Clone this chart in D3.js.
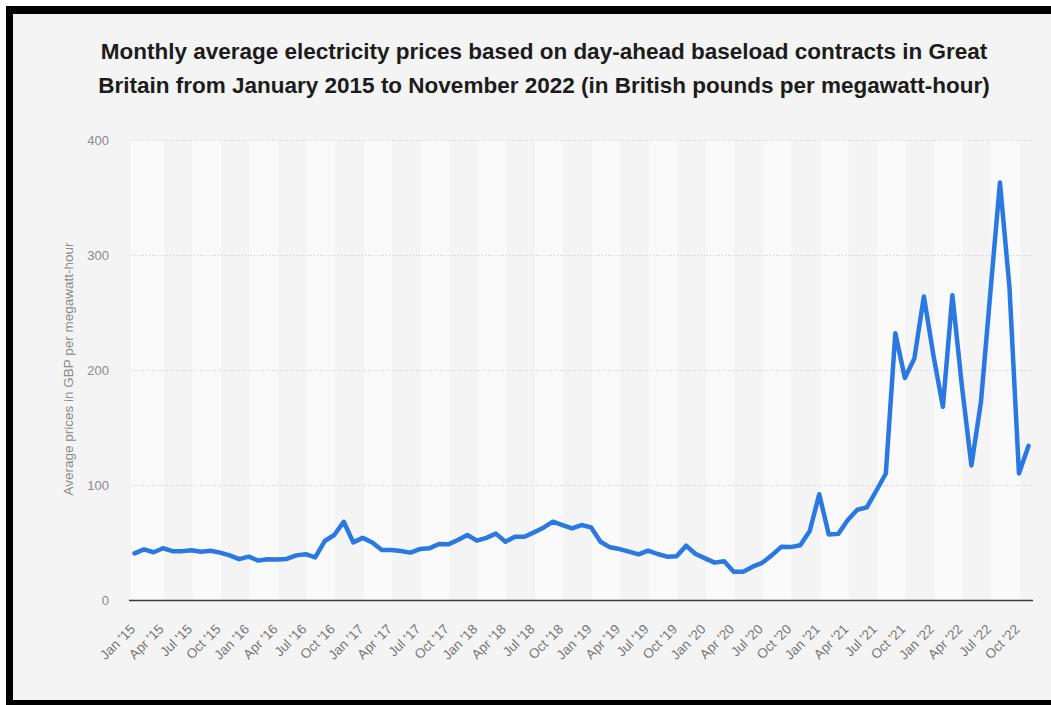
<!DOCTYPE html>
<html>
<head>
<meta charset="utf-8">
<script src="https://cdn.jsdelivr.net/npm/d3@7"></script>
<style>
  html, body { margin: 0; padding: 0; background: #fff; }
  svg { display: block; font-family: "Liberation Sans", Arial, Helvetica, sans-serif; }
</style>
</head>
<body>
<svg id="chart" width="1051" height="705"></svg>
<script>
// Monthly categories, January 2015 to November 2022
const monthNames = ["Jan", "Feb", "Mar", "Apr", "May", "Jun", "Jul", "Aug", "Sep", "Oct", "Nov", "Dec"];
const years = ["15", "16", "17", "18", "19", "20", "21", "22"];
const lastMonthIndex = 10; // November of the final year

// Average day-ahead baseload price, GBP per MWh
const prices = [
  40.6, 44.0, 41.5, 45.0, 42.5, 42.5, 43.3, 42.0, 42.8, 41.2, 38.8, 35.5,   // 2015
  37.7, 34.3, 35.4, 35.3, 35.7, 38.8, 39.8, 37.0, 51.3, 56.5, 68.0, 50.1,   // 2016
  54.0, 50.0, 43.5, 43.5, 42.6, 41.2, 44.3, 44.9, 48.7, 48.4, 52.2, 56.5,   // 2017
  51.6, 54.0, 57.7, 50.7, 55.0, 55.0, 58.8, 62.9, 68.1, 65.2, 62.3, 65.2,   // 2018
  63.2, 50.7, 45.8, 44.3, 42.0, 39.7, 42.9, 40.0, 37.7, 38.0, 47.2, 40.0,   // 2019
  36.2, 32.5, 33.7, 24.6, 24.6, 29.0, 32.3, 38.8, 46.2, 46.0, 47.6, 60.0,   // 2020
  92.0, 57.0, 57.5, 69.5, 78.5, 80.5, 95.0, 110.0, 232.0, 193.0, 210.0, 264.0, // 2021
  213.0, 168.0, 265.0, 186.0, 117.0, 172.0, 268.0, 363.0, 272.0, 110.0, 134.0  // 2022
];

const yTicks = [0, 100, 200, 300, 400];
const xTickLabels = [
  "Jan '15", "Apr '15", "Jul '15", "Oct '15", "Jan '16", "Apr '16", "Jul '16", "Oct '16",
  "Jan '17", "Apr '17", "Jul '17", "Oct '17", "Jan '18", "Apr '18", "Jul '18", "Oct '18",
  "Jan '19", "Apr '19", "Jul '19", "Oct '19", "Jan '20", "Apr '20", "Jul '20", "Oct '20",
  "Jan '21", "Apr '21", "Jul '21", "Oct '21", "Jan '22", "Apr '22", "Jul '22", "Oct '22"
];

const titleLines = [
  "Monthly average electricity prices based on day-ahead baseload contracts in Great",
  "Britain from January 2015 to November 2022 (in British pounds per megawatt-hour)"
];
const yAxisTitle = "Average prices in GBP per megawatt-hour";

const categories = [];
years.forEach((y, yi) => monthNames.forEach((m, mi) => {
  if (yi < years.length - 1 || mi <= lastMonthIndex) categories.push(`${m} '${y}`);
}));
const data = categories.map((c, i) => ({ cat: c, value: prices[i] }));

const W = 1051, H = 705;
const plot = { left: 131, right: 1032, top: 140, bottom: 600 };

const svg = d3.select("#chart");

// Outer frame
svg.append("rect").attr("x", 0).attr("y", 0).attr("width", W).attr("height", H).attr("fill", "#fff");
svg.append("rect").attr("x", 6).attr("y", 6).attr("width", W).attr("height", H).attr("fill", "#000");
svg.append("rect").attr("x", 13).attr("y", 14).attr("width", W).attr("height", 686).attr("fill", "#f4f4f4");

const x = d3.scalePoint().domain(categories).range([plot.left, plot.right]).padding(0.37);
const y = d3.scaleLinear().domain([0, 400]).range([plot.bottom, plot.top]);

// Alternating quarter bands
const bandEdges = [plot.left];
for (let i = 3; i < categories.length; i += 3) bandEdges.push(x(categories[i]) + 1);
bandEdges.push(plot.right);
const bands = d3.pairs(bandEdges);
svg.append("g").selectAll("rect").data(bands).join("rect")
  .attr("x", d => d[0]).attr("y", plot.top)
  .attr("width", d => d[1] - d[0]).attr("height", plot.bottom - plot.top)
  .attr("fill", (d, i) => i % 2 === 0 ? "#fafafa" : "#f4f4f4");

// Horizontal dotted grid
svg.append("g").selectAll("line").data(yTicks.filter(t => t > 0)).join("line")
  .attr("x1", plot.left).attr("x2", plot.right)
  .attr("y1", d => y(d) + 0.5).attr("y2", d => y(d) + 0.5)
  .attr("stroke", "#c8c8c8").attr("stroke-width", 1).attr("stroke-dasharray", "1,2");

// Baseline
svg.append("line")
  .attr("x1", plot.left - 2).attr("x2", plot.right + 1)
  .attr("y1", y(0) + 0.5).attr("y2", y(0) + 0.5)
  .attr("stroke", "#3a3a3a").attr("stroke-width", 1.6);

// Y axis labels
const yAxis = svg.append("g").attr("transform", `translate(${plot.left},0)`)
  .call(d3.axisLeft(y).tickValues(yTicks).tickSize(0).tickPadding(22).tickFormat(d3.format("d")));
yAxis.select(".domain").remove();
yAxis.selectAll("text")
  .attr("fill", "#8a8a8a").attr("font-size", "13px")
  .attr("font-family", "'Liberation Sans', Arial, sans-serif");

// X axis labels
const xAxis = svg.append("g").attr("transform", `translate(0,${plot.bottom})`)
  .call(d3.axisBottom(x).tickValues(xTickLabels).tickSize(0));
xAxis.select(".domain").remove();
xAxis.selectAll("text")
  .attr("x", 0).attr("y", 0).attr("dy", 0)
  .attr("text-anchor", "end")
  .attr("transform", "translate(1,30) rotate(-45)")
  .attr("fill", "#777").attr("font-size", "13.5px")
  .attr("font-family", "'Liberation Sans', Arial, sans-serif");

// Y axis title
svg.append("text")
  .attr("transform", "translate(73,369) rotate(-90)")
  .attr("text-anchor", "middle")
  .attr("fill", "#8a8a8a").attr("font-size", "13.5px")
  .text(yAxisTitle);

// Price line
const line = d3.line().x(d => x(d.cat)).y(d => y(d.value));
svg.append("path").datum(data)
  .attr("d", line)
  .attr("fill", "none")
  .attr("stroke", "#2a78e2")
  .attr("stroke-width", 4.5)
  .attr("stroke-linejoin", "round")
  .attr("stroke-linecap", "round");

// Title
svg.append("g").selectAll("text").data(titleLines).join("text")
  .attr("x", 544).attr("y", (d, i) => 59 + i * 34)
  .attr("text-anchor", "middle")
  .attr("font-weight", "bold").attr("font-size", "22.5px")
  .attr("fill", "#1c1c1c")
  .text(d => d);
</script>
</body>
</html>
